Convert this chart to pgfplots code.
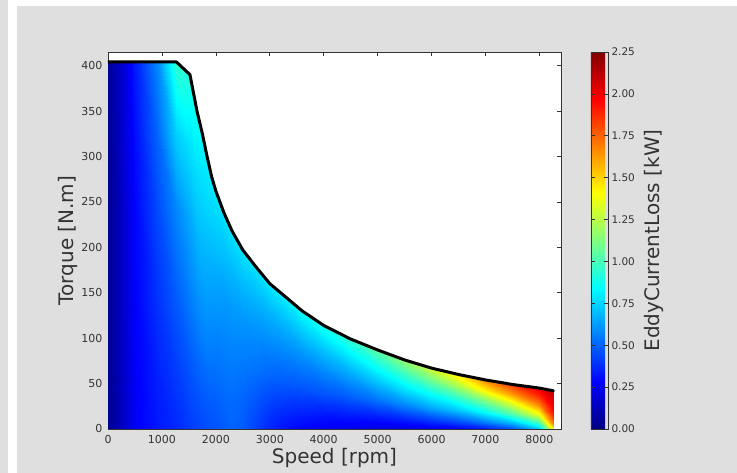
\documentclass[border=0pt]{standalone}
\usepackage{fontspec}
\setmainfont{DejaVu Sans}
\usepackage{pgfplots}
\pgfplotsset{compat=1.18}
\definecolor{figbg}{HTML}{DFDFDF}
\definecolor{tickgray}{HTML}{333333}

\begin{document}
\begin{tikzpicture}
% figure background
\fill[white] (0pt,0pt) rectangle (737pt,473pt);
\fill[figbg] (0pt,0pt) rectangle (8pt,473pt);
\fill[figbg] (17pt,0pt) rectangle (737pt,467pt);
\begin{axis}[
  at={(108pt,44pt)}, anchor=south west, scale only axis,
  width=453pt, height=377pt,
  xmin=0, xmax=8400, ymin=0, ymax=415,
  xtick={0,1000,...,8000}, ytick={0,50,...,400},
  scaled ticks=false,
  /pgf/number format/1000 sep={},
  /pgf/number format/assume math mode=true,
  axis background/.style={fill=white},
  axis line style={tickgray, line width=0.8pt},
  tick style={tickgray, line width=0.6pt},
  major tick length=4pt, tick align=inside,
  tick label style={font=\fontsize{11}{13}\selectfont, text=tickgray},
  xticklabel style={yshift=-3pt},
  yticklabel style={xshift=-2pt},
  xlabel={Speed [rpm]}, ylabel={Torque [N.m]},
  label style={font=\fontsize{20}{24}\selectfont, text=tickgray},
  xlabel style={at={(axis description cs:0.5,0)}, anchor=north, inner sep=0pt, yshift=-19pt},
  ylabel style={at={(axis description cs:0,0.5)}, anchor=south, inner sep=0pt, yshift=30pt},
  colormap/jet, point meta min=0, point meta max=2.25,
  colorbar,
  colorbar shift/.style={xshift=30pt},
  colorbar style={
    at={(parent axis.north east)}, anchor=north west,
    width=17pt,
    ytick={0,0.25,...,2.25},
    yticklabel style={font=\fontsize{10.5}{12}\selectfont, text=tickgray,
      /pgf/number format/fixed, /pgf/number format/fixed zerofill,
      /pgf/number format/precision=2, /pgf/number format/assume math mode=true},
    axis line style={tickgray, line width=0.8pt},
    tick style={tickgray, line width=0.6pt},
    major tick length=4pt,
    ylabel={EddyCurrentLoss [kW]},
    every axis y label/.style={at={(axis description cs:1,0.5)}, rotate=90, anchor=north,
      inner sep=0pt, yshift=-36pt, font=\fontsize{20}{24}\selectfont, text=tickgray},
  },
]
% loss map: speed, torque, loss (kW); one scanline per torque fraction of the envelope
\addplot[surf, shader=interp, mesh/cols=28, point meta=explicit] table[meta=v] {
n T v
0 0 0.04
200 0 0.12
500 0 0.27
900 0 0.33
1270 0 0.37
1520 0 0.41
1650 0 0.43
1750 0 0.44
1830 0 0.45
1920 0 0.46
2000 0 0.46
2150 0 0.48
2300 0 0.50
2500 0 0.48
2750 0 0.42
3000 0 0.36
3300 0 0.31
3600 0 0.28
4000 0 0.26
4500 0 0.24
5000 0 0.22
5500 0 0.22
6000 0 0.24
6500 0 0.27
7000 0 0.32
7500 0 0.44
8000 0 0.70
8260 0 1.40
0 60.6 0.04
200 60.6 0.12
500 60.6 0.27
900 60.6 0.35
1270 60.6 0.41
1520 58.5 0.46
1650 52.5 0.48
1750 48.8 0.49
1830 45.3 0.50
1920 41.7 0.50
2000 39.3 0.50
2150 35.7 0.51
2300 32.7 0.52
2500 29.6 0.50
2750 26.7 0.46
3000 24 0.41
3300 21.8 0.38
3600 19.5 0.36
4000 17.1 0.34
4500 14.9 0.34
5000 13.1 0.34
5500 11.4 0.36
6000 10.1 0.41
6500 9 0.47
7000 8.1 0.56
7500 7.4 0.72
8000 6.8 0.98
8260 6.3 1.70
0 141.4 0.04
200 141.4 0.13
500 141.4 0.28
900 141.4 0.39
1270 141.4 0.48
1520 136.5 0.55
1650 122.5 0.57
1750 113.8 0.58
1830 105.7 0.58
1920 97.3 0.57
2000 91.7 0.56
2150 83.3 0.56
2300 76.3 0.56
2500 69 0.55
2750 62.3 0.53
3000 56 0.50
3300 50.8 0.48
3600 45.5 0.47
4000 39.9 0.47
4500 34.7 0.49
5000 30.5 0.53
5500 26.6 0.58
6000 23.5 0.65
6500 21 0.73
7000 18.9 0.85
7500 17.2 1.05
8000 15.8 1.35
8260 14.7 1.88
0 242.4 0.04
200 242.4 0.13
500 242.4 0.29
900 242.4 0.44
1270 242.4 0.58
1520 234 0.66
1650 210 0.68
1750 195 0.68
1830 181.2 0.67
1920 166.8 0.65
2000 157.2 0.64
2150 142.8 0.62
2300 130.8 0.62
2500 118.2 0.61
2750 106.8 0.60
3000 96 0.59
3300 87 0.59
3600 78 0.59
4000 68.4 0.61
4500 59.4 0.65
5000 52.2 0.72
5500 45.6 0.80
6000 40.2 0.89
6500 36 1.00
7000 32.4 1.14
7500 29.4 1.38
8000 27 1.70
8260 25.2 2.00
0 323.2 0.04
200 323.2 0.14
500 323.2 0.31
900 323.2 0.50
1270 323.2 0.74
1520 312 0.78
1650 280 0.77
1750 260 0.76
1830 241.6 0.75
1920 222.4 0.73
2000 209.6 0.72
2150 190.4 0.70
2300 174.4 0.69
2500 157.6 0.69
2750 142.4 0.68
3000 128 0.68
3300 116 0.69
3600 104 0.71
4000 91.2 0.74
4500 79.2 0.80
5000 69.6 0.88
5500 60.8 0.98
6000 53.6 1.10
6500 48 1.25
7000 43.2 1.44
7500 39.2 1.66
8000 36 1.88
8260 33.6 2.06
0 404 0.05
200 404 0.15
500 404 0.34
900 404 0.58
1270 404 0.95
1520 390 0.92
1650 350 0.86
1750 325 0.84
1830 302 0.82
1920 278 0.81
2000 262 0.80
2150 238 0.79
2300 218 0.79
2500 197 0.79
2750 178 0.79
3000 160 0.80
3300 145 0.82
3600 130 0.85
4000 114 0.90
4500 99 0.96
5000 87 1.06
5500 76 1.18
6000 67 1.32
6500 60 1.47
7000 54 1.66
7500 49 1.86
8000 45 2.01
8260 42 2.10
};
% torque envelope
\addplot[black, line width=3pt, line join=round, line cap=round] coordinates {
(0,404) (1270,404) (1520,390) (1650,350) (1750,325) (1830,302) (1920,278)
(2000,262) (2150,238) (2300,218) (2500,197) (2750,178) (3000,160) (3300,145)
(3600,130) (4000,114) (4500,99) (5000,87) (5500,76) (6000,67) (6500,60)
(7000,54) (7500,49) (8000,45) (8260,42)};
\end{axis}
\end{tikzpicture}
\end{document}
